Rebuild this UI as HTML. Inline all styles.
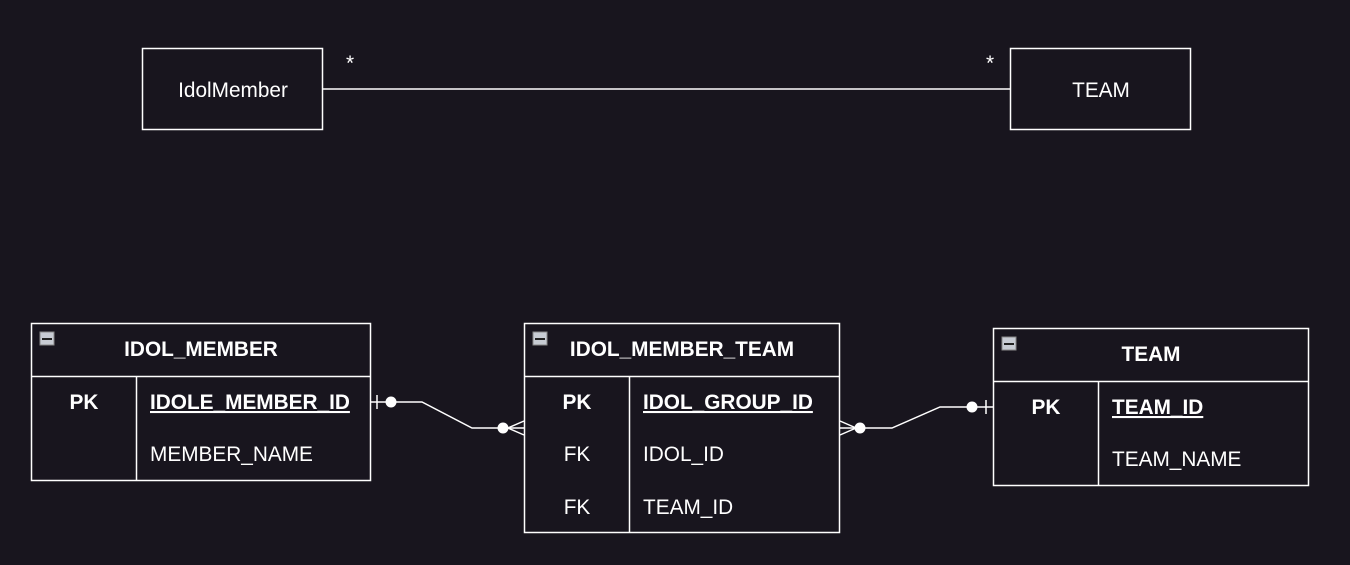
<!DOCTYPE html>
<html><head><style>
body{margin:0;background:#18151e;overflow:hidden;}
text{font-family:"Liberation Sans",sans-serif;fill:#fff;font-size:20.8px;}
.b{font-weight:bold;}
</style></head><body>
<svg width="1350" height="565" xmlns="http://www.w3.org/2000/svg" style="display:block">
<rect width="1350" height="565" fill="#18151e"/>
<g stroke="#fff" stroke-width="1.5" fill="none">
<rect x="142.5" y="48.5" width="180" height="81"/>
<rect x="1010.5" y="48.5" width="180" height="81"/>
<line x1="323" y1="89" x2="1010" y2="89"/>
<rect x="31.5" y="323.5" width="339" height="157"/>
<line x1="31" y1="376.5" x2="371" y2="376.5"/>
<line x1="136.5" y1="376" x2="136.5" y2="480"/>
<rect x="524.5" y="323.5" width="315" height="209"/>
<line x1="524" y1="376.5" x2="840" y2="376.5"/>
<line x1="629.5" y1="376" x2="629.5" y2="532"/>
<rect x="993.5" y="328.5" width="315" height="157"/>
<line x1="993" y1="381.5" x2="1309" y2="381.5"/>
<line x1="1098.5" y1="381" x2="1098.5" y2="485"/>
<polyline points="371,402 422,402 472,428 524,428"/>
<line x1="377" y1="395" x2="377" y2="409"/>
<polyline points="524,421 508,428 524,435"/>
<polyline points="840,428 892,428 940,407 993,407"/>
<line x1="986" y1="400" x2="986" y2="414"/>
<polyline points="840,421 856,428 840,435"/>
</g>
<g fill="#fff">
<circle cx="391" cy="402" r="5.5"/><circle cx="503" cy="428" r="5.5"/>
<circle cx="860" cy="428" r="5.5"/><circle cx="972" cy="407" r="5.5"/>
</g>
<g>
<rect x="40" y="332" width="14" height="13" fill="#c8ccd4" stroke="#888"/><rect x="42" y="338" width="10" height="2" fill="#222"/>
<rect x="533" y="332" width="14" height="13" fill="#c8ccd4" stroke="#888"/><rect x="535" y="338" width="10" height="2" fill="#222"/>
<rect x="1002" y="337" width="14" height="13" fill="#c8ccd4" stroke="#888"/><rect x="1004" y="343" width="10" height="2" fill="#222"/>
</g>
<text x="233" y="97" text-anchor="middle">IdolMember</text>
<text x="1101" y="97" text-anchor="middle">TEAM</text>
<text x="346" y="70" font-size="15">*</text>
<text x="986" y="70" font-size="15">*</text>
<text x="201" y="356" text-anchor="middle" class="b">IDOL_MEMBER</text>
<text x="84" y="409" text-anchor="middle" class="b">PK</text>
<text x="150" y="409" class="b" text-decoration="underline">IDOLE_MEMBER_ID</text>
<text x="150" y="461">MEMBER_NAME</text>
<text x="682" y="356" text-anchor="middle" class="b">IDOL_MEMBER_TEAM</text>
<text x="577" y="409" text-anchor="middle" class="b">PK</text>
<text x="643" y="409" class="b" text-decoration="underline">IDOL_GROUP_ID</text>
<text x="577" y="461" text-anchor="middle">FK</text>
<text x="643" y="461">IDOL_ID</text>
<text x="577" y="514" text-anchor="middle">FK</text>
<text x="643" y="514">TEAM_ID</text>
<text x="1151" y="361" text-anchor="middle" class="b">TEAM</text>
<text x="1046" y="414" text-anchor="middle" class="b">PK</text>
<text x="1112" y="414" class="b" text-decoration="underline">TEAM_ID</text>
<text x="1112" y="466">TEAM_NAME</text>
</svg>
</body></html>
